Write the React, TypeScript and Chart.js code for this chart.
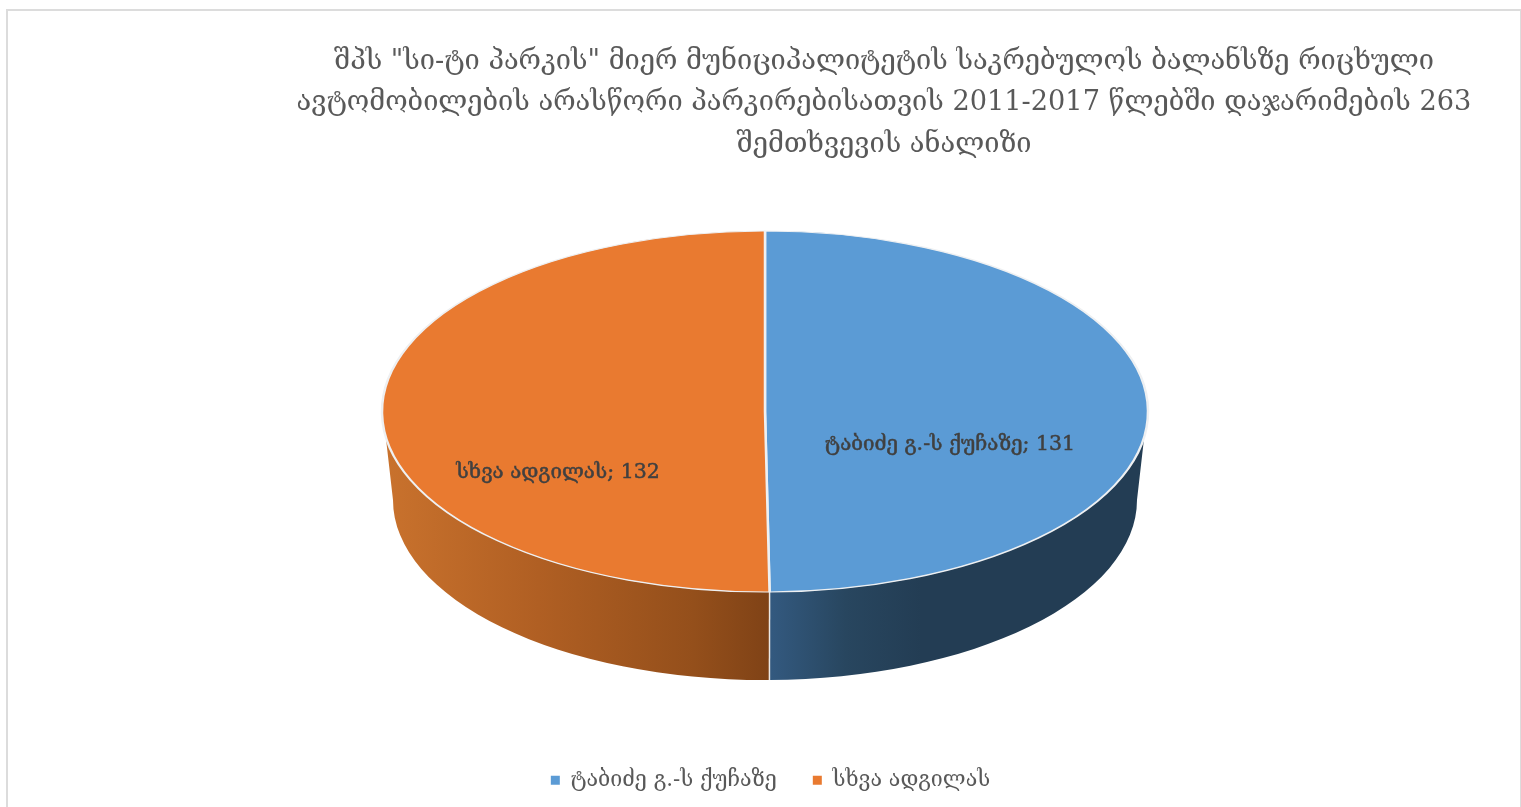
import React, { useEffect, useRef } from "react";
import { Chart, registerables } from "chart.js";

Chart.register(...registerables);

const categories = ["ტაბიძე გ.-ს ქუჩაზე", "სხვა ადგილას"];
const values = [131, 132];
const titleLines = [
  'შპს "სი-ტი პარკის" მიერ მუნიციპალიტეტის საკრებულოს ბალანსზე რიცხული',
  "ავტომობილების არასწორი პარკირებისათვის 2011-2017 წლებში დაჯარიმების 263",
  "შემთხვევის ანალიზი",
];
const sliceColors = ["#5b9bd5", "#e97a30"];

const FONT = '"DejaVu Serif", "DejaVu Sans", serif';
const CENTER = { x: 765, y: 411.5 };
const RADIUS = 383;
const TILT = 180.5 / 383;
const LOWER = { cy: 500, rx: 372, ry: 180 };
const TANGENT = (8 * Math.PI) / 180;
const LABEL_OFFSETS = [
  { x: 185, y: 33.5 },
  { x: -207, y: 61.5 },
];
const WALL_STOPS = [
  { from: 771, to: 1146, stops: [[0, "#33597f"], [0.2, "#28465f"], [0.4, "#233d54"], [1, "#233d54"]] },
  { from: 384, to: 771, stops: [[0, "#c9722d"], [0.4, "#b05f23"], [0.8, "#944f1b"], [1, "#7f4216"]] },
];

const pie3d = {
  id: "pie3d",
  afterLayout(chart: any) {
    const shift = 884 - (chart.titleBlock.left + chart.titleBlock.right) / 2;
    chart.titleBlock.left += shift;
    chart.titleBlock.right += shift;
  },
  beforeDatasetsDraw(chart: any) {
    const ctx = chart.ctx;
    const arcs = chart.getDatasetMeta(0).data;
    arcs.forEach((el: any, i: number) => {
      const s = Math.max(el.startAngle, TANGENT);
      const e = Math.min(el.endAngle, Math.PI - TANGENT);
      if (e <= s) return;
      const ls = el.startAngle > TANGENT ? s : 0;
      const le = el.endAngle < Math.PI - TANGENT ? e : Math.PI;
      const w = WALL_STOPS[i];
      const g = ctx.createLinearGradient(w.from, 0, w.to, 0);
      w.stops.forEach(([p, c]: any) => g.addColorStop(p, c));
      ctx.beginPath();
      ctx.ellipse(CENTER.x, CENTER.y, RADIUS, RADIUS * TILT, 0, s, e);
      ctx.ellipse(CENTER.x, LOWER.cy, LOWER.rx, LOWER.ry, 0, le, ls, true);
      ctx.closePath();
      ctx.fillStyle = g;
      ctx.fill();
    });
    const seam = arcs[0].endAngle;
    ctx.beginPath();
    ctx.moveTo(CENTER.x + RADIUS * Math.cos(seam), CENTER.y + RADIUS * TILT * Math.sin(seam));
    ctx.lineTo(CENTER.x + LOWER.rx * Math.cos(seam), LOWER.cy + LOWER.ry * Math.sin(seam));
    ctx.strokeStyle = "#ece8e4";
    ctx.lineWidth = 1.5;
    ctx.stroke();
    const el0 = arcs[0];
    ctx.save();
    ctx.translate(CENTER.x, CENTER.y);
    ctx.scale(1, TILT);
    ctx.translate(-el0.x, -el0.y);
  },
  afterDatasetsDraw(chart: any) {
    const ctx = chart.ctx;
    ctx.restore();
    ctx.save();
    ctx.font = `20.5px ${FONT}`;
    ctx.fillStyle = "#404040";
    ctx.strokeStyle = "#404040";
    ctx.lineWidth = 0.5;
    ctx.textAlign = "center";
    ctx.textBaseline = "middle";
    categories.forEach((c, i) => {
      const text = `${c}; ${values[i]}`;
      const x = CENTER.x + LABEL_OFFSETS[i].x;
      const y = CENTER.y + LABEL_OFFSETS[i].y;
      ctx.fillText(text, x, y);
      ctx.strokeText(text, x, y);
    });
    ctx.restore();
  },
};

export default function App() {
  const ref = useRef<HTMLCanvasElement>(null);
  useEffect(() => {
    const chart = new Chart(ref.current as HTMLCanvasElement, {
      type: "pie",
      data: {
        labels: categories,
        datasets: [
          {
            data: values,
            backgroundColor: sliceColors,
            borderColor: "#eef0f2",
            borderWidth: 2.5,
            clip: false,
          } as any,
        ],
      },
      options: {
        responsive: false,
        animation: false,
        radius: RADIUS,
        layout: { padding: { left: 20, right: 0, top: 0, bottom: 6 } },
        plugins: {
          tooltip: { enabled: false },
          title: {
            display: true,
            text: titleLines,
            color: "#595959",
            font: { family: FONT, size: 27.2, weight: "normal", lineHeight: 1.53 },
            padding: { top: 41, bottom: 20 },
          },
          legend: {
            position: "bottom",
            labels: {
              boxWidth: 9,
              boxHeight: 9,
              padding: 36,
              color: "#595959",
              font: { family: FONT, size: 21.4 },
              generateLabels: (c: any) =>
                (Chart as any).overrides.doughnut.plugins.legend.labels
                  .generateLabels(c)
                  .map((l: any) => ({ ...l, lineWidth: 0 })),
            },
          },
        },
      } as any,
      plugins: [pie3d],
    });
    return () => chart.destroy();
  }, []);
  return (
    <>
      <div
        style={{
          position: "fixed",
          left: 6,
          top: 9,
          width: 1512,
          height: 820,
          border: "2px solid #dcdcdc",
          boxSizing: "content-box",
        }}
      />
      <canvas
        ref={ref}
        width={1521}
        height={807}
        style={{ position: "fixed", left: 0, top: 0, width: 1521, height: 807 }}
      />
    </>
  );
}
